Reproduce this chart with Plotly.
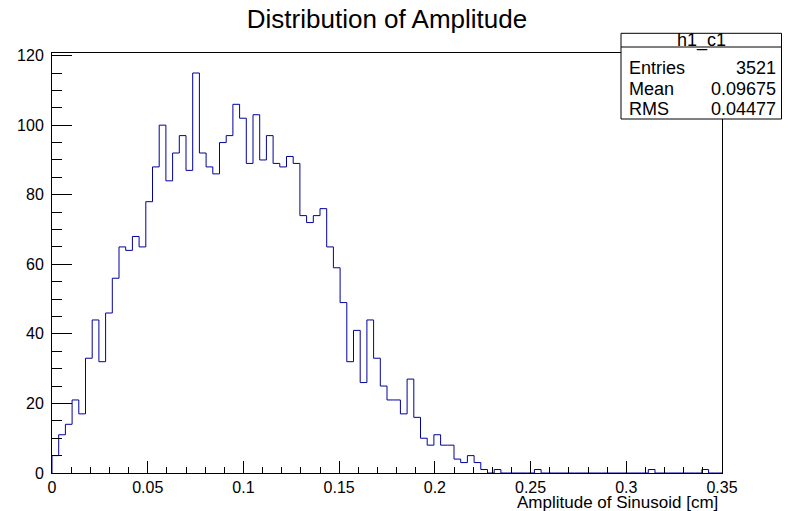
import numpy as np
import plotly.graph_objects as go

# ---------------- data ----------------
title_text = "Distribution of Amplitude"
x_title_text = "Amplitude of Sinusoid [cm]"
hist_name = "h1_c1"
n_bins = 100
x_min, x_max = 0.0, 0.35
counts = [
    5, 11, 14, 21, 17, 33, 44, 32, 46, 56,
    65, 64, 68, 65, 78, 88, 100, 84, 92, 97,
    87, 115, 92, 88, 86, 95, 97, 106, 102, 89,
    103, 90, 97, 89, 88, 91, 89, 74, 72, 74,
    76, 65, 59, 49, 32, 41, 26, 44, 33, 25,
    21, 21, 17, 27, 16, 10, 8, 11, 8, 8,
    4, 3, 5, 3, 1, 0, 1, 0, 0, 0,
    0, 0, 1, 0, 0, 0, 0, 0, 0, 0,
    0, 0, 0, 0, 0, 0, 0, 0, 0, 1,
    0, 0, 0, 0, 0, 0, 0, 1, 0, 0,
]
stats_labels = ["Entries", "Mean", "RMS"]
stats_values = ["3521", "0.09675", "0.04477"]
x_tickvals = [0, 0.05, 0.1, 0.15, 0.2, 0.25, 0.3, 0.35]
x_ticktext = ["0", "0.05", "0.1", "0.15", "0.2", "0.25", "0.3", "0.35"]
y_tickvals = [0, 20, 40, 60, 80, 100, 120]
y_ticktext = ["0", "20", "40", "60", "80", "100", "120"]

# ---------------- geometry / style ----------------
W, H = 796, 511
ML, MR, MT, MB = 52, 74, 53, 38
PW, PH = W - ML - MR, H - MT - MB
FONT = "Liberation Sans"
LINE_BLUE = "#00009c"


def px2x(px):
    return (px - ML) / PW


def py2y(py):
    return (H - MB - py) / PH


edges = np.linspace(x_min, x_max, n_bins + 1)
cnt = np.asarray(counts, dtype=float)
xs = np.concatenate([[edges[0]], edges])
ys = np.concatenate([[0.0], cnt, [cnt[-1]]])

fig = go.Figure()
fig.add_trace(go.Scatter(
    x=xs, y=ys, mode="lines",
    line=dict(color=LINE_BLUE, width=1, shape="hv"),
    hoverinfo="skip", showlegend=False,
))

y_max = 1.05 * cnt.max()

fig.update_layout(
    width=W, height=H,
    margin=dict(l=ML, r=MR, t=MT, b=MB, pad=0),
    paper_bgcolor="white", plot_bgcolor="white",
    font=dict(family=FONT, color="black", size=16),
    showlegend=False,
    title=dict(text=title_text, x=387 / W, xanchor="center",
               y=1 - 19 / H, yanchor="middle", xref="container", yref="container",
               font=dict(family=FONT, size=26, color="black")),
)

fig.update_xaxes(
    range=[x_min, x_max], showgrid=False, zeroline=False,
    showline=True, linecolor="black", linewidth=1, mirror=True,
    ticks="inside", ticklen=12, tickwidth=1, tickcolor="black",
    tickvals=x_tickvals, ticktext=x_ticktext,
    tickfont=dict(family=FONT, size=16, color="black"),
    minor=dict(ticks="inside", ticklen=6, tickwidth=1, tickcolor="black",
               dtick=0.01, tick0=0, showgrid=False),
)
fig.update_yaxes(
    range=[0, y_max], showgrid=False, zeroline=False,
    showline=True, linecolor="black", linewidth=1, mirror=True,
    ticks="inside", ticklen=20, tickwidth=1, tickcolor="black",
    tickvals=y_tickvals, ticktext=y_ticktext,
    tickfont=dict(family=FONT, size=16, color="black"),
    ticklabelstandoff=4,
    minor=dict(ticks="inside", ticklen=10, tickwidth=1, tickcolor="black",
               dtick=5, tick0=0, showgrid=False),
)

# x axis title (right aligned, ROOT style)
fig.add_annotation(
    text=x_title_text, xref="paper", yref="paper",
    x=px2x(720), y=py2y(502), xanchor="right", yanchor="middle",
    showarrow=False, font=dict(family=FONT, size=17, color="black"),
)

# stats box
bx0, bx1, by0, by1, bsep = 621, 781.5, 33.3, 119, 47
fig.add_shape(type="rect", xref="paper", yref="paper",
              x0=px2x(bx0), x1=px2x(bx1), y0=py2y(by1), y1=py2y(by0),
              line=dict(color="black", width=1), fillcolor="white", layer="above")
fig.add_shape(type="line", xref="paper", yref="paper",
              x0=px2x(bx0), x1=px2x(bx1), y0=py2y(bsep), y1=py2y(bsep),
              line=dict(color="black", width=1), layer="above")
fig.add_annotation(text=hist_name, xref="paper", yref="paper",
                   x=px2x((bx0 + bx1) / 2), y=py2y(40.5), xanchor="center", yanchor="middle",
                   showarrow=False, font=dict(family=FONT, size=18, color="black"))
row_y = [68, 89, 109]
for lab, val, ry in zip(stats_labels, stats_values, row_y):
    fig.add_annotation(text=lab, xref="paper", yref="paper",
                       x=px2x(627), y=py2y(ry), xanchor="left", yanchor="middle",
                       showarrow=False, font=dict(family=FONT, size=18, color="black"))
    fig.add_annotation(text=val, xref="paper", yref="paper",
                       x=px2x(778), y=py2y(ry), xanchor="right", yanchor="middle",
                       showarrow=False, font=dict(family=FONT, size=18, color="black"))

fig.write_html("out.html", config={"displayModeBar": False},
               post_script="document.body.style.margin='0';")
